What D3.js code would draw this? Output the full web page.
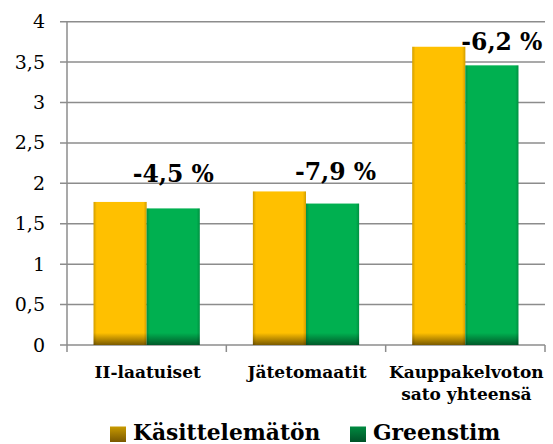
<!DOCTYPE html>
<html><head><meta charset="utf-8">
<script src="https://cdn.jsdelivr.net/npm/d3@7"></script>
<style>
html,body{margin:0;padding:0;background:#fff;}
svg{display:block;}
</style></head>
<body>
<svg id="chart" width="553" height="444"></svg>
<script>
const categories = ["II-laatuiset", "Jätetomaatit", "Kauppakelvoton\nsato yhteensä"];
const seriesNames = ["Käsittelemätön", "Greenstim"];
const untreated = [1.77, 1.90, 3.69];
const greenstim = [1.69, 1.75, 3.46];
const changeLabels = ["-4,5 %", "-7,9 %", "-6,2 %"];
const changeLabelAt = [2.02, 2.04, 3.65];
const yTicks = [0, 0.5, 1, 1.5, 2, 2.5, 3, 3.5, 4];

(function() {
const colors = ["#FFC000", "#00B050"];
const darks = ["#7A5A00", "#005A2A"];
const FONT = "'DejaVu Serif', serif";

const svg = d3.select("#chart");
const mLeft = 67, mRight = 545, mTop = 21.7, mBottom = 345;

const y = d3.scaleLinear().domain([0, 4]).range([mBottom, mTop]);
const x0 = d3.scaleBand().domain(categories).range([mLeft, mRight]).paddingInner(0).paddingOuter(0);
const x1 = d3.scaleBand().domain(seriesNames).range([0, x0.bandwidth()]).paddingInner(0).paddingOuter(0.5);

const defs = svg.append("defs");
seriesNames.forEach((s, i) => {
  const g = defs.append("linearGradient").attr("id", "bg" + i)
    .attr("gradientUnits", "userSpaceOnUse")
    .attr("x1", 0).attr("x2", 0).attr("y1", y(0) - 22).attr("y2", y(0));
  g.append("stop").attr("offset", 0).attr("stop-color", colors[i]);
  g.append("stop").attr("offset", 0.45).attr("stop-color", colors[i]);
  g.append("stop").attr("offset", 1).attr("stop-color", darks[i]);
  const lg = defs.append("linearGradient").attr("id", "lg" + i)
    .attr("x1", 0).attr("x2", 0).attr("y1", 0).attr("y2", 1);
  lg.append("stop").attr("offset", 0).attr("stop-color", i ? "#008A40" : "#C89A00");
  lg.append("stop").attr("offset", 1).attr("stop-color", i ? "#005228" : "#7A5800");
});
const eg = defs.append("linearGradient").attr("id", "edge").attr("x1", 0).attr("x2", 1).attr("y1", 0).attr("y2", 0);
eg.append("stop").attr("offset", 0).attr("stop-color", "#000").attr("stop-opacity", 0.18);
eg.append("stop").attr("offset", 0.06).attr("stop-color", "#000").attr("stop-opacity", 0);
eg.append("stop").attr("offset", 0.94).attr("stop-color", "#000").attr("stop-opacity", 0);
eg.append("stop").attr("offset", 1).attr("stop-color", "#000").attr("stop-opacity", 0.18);

// gridlines
svg.append("g").selectAll("line").data(yTicks).join("line")
  .attr("x1", mLeft - 7).attr("x2", mRight)
  .attr("y1", d => y(d)).attr("y2", d => y(d))
  .attr("stroke", "#8C8C8C").attr("stroke-width", 1.5);

// y axis line
svg.append("line").attr("x1", mLeft).attr("x2", mLeft).attr("y1", y(4)).attr("y2", y(0))
  .attr("stroke", "#8C8C8C").attr("stroke-width", 1.5);

// y labels
const fmt = d => String(d).replace(".", ",");
svg.append("g").selectAll("text").data(yTicks).join("text")
  .attr("x", 45).attr("y", d => y(d) + 6.5)
  .attr("text-anchor", "end")
  .attr("font-family", FONT).attr("font-size", 19).attr("fill", "#000")
  .text(fmt);

// x ticks
const bounds = categories.map(c => x0(c)).concat([mRight]);
svg.append("g").selectAll("line").data(bounds).join("line")
  .attr("x1", d => d).attr("x2", d => d).attr("y1", y(0)).attr("y2", y(0) + 7)
  .attr("stroke", "#8C8C8C").attr("stroke-width", 1.5);

// bars
const series = [untreated, greenstim];
seriesNames.forEach((s, i) => {
  const g = svg.append("g");
  g.selectAll("rect.bar").data(series[i]).join("rect").attr("class", "bar")
    .attr("x", (d, j) => x0(categories[j]) + x1(s))
    .attr("y", d => y(d))
    .attr("width", x1.bandwidth())
    .attr("height", d => y(0) - y(d))
    .attr("fill", "url(#bg" + i + ")");
  g.selectAll("rect.edge").data(series[i]).join("rect").attr("class", "edge")
    .attr("x", (d, j) => x0(categories[j]) + x1(s))
    .attr("y", d => y(d))
    .attr("width", x1.bandwidth())
    .attr("height", d => y(0) - y(d))
    .attr("fill", "url(#edge)");
});

// change labels
const dx = [0, 3, 10];
svg.append("g").selectAll("text").data(changeLabels).join("text")
  .attr("x", (d, j) => x0(categories[j]) + x1(seriesNames[1]) + x1.bandwidth() / 2 + dx[j])
  .attr("y", (d, j) => y(changeLabelAt[j]))
  .attr("text-anchor", "middle")
  .attr("font-family", FONT).attr("font-weight", "bold").attr("font-size", 23.5).attr("fill", "#000")
  .text(d => d);

// category labels
const cl = svg.append("g").selectAll("text").data(categories).join("text")
  .attr("x", c => x0(c) + x0.bandwidth() / 2 + 1)
  .attr("y", 378)
  .attr("text-anchor", "middle")
  .attr("font-family", FONT).attr("font-weight", "bold").attr("font-size", 17).attr("fill", "#000");
cl.each(function(c) {
  const lines = c.split("\n");
  d3.select(this).selectAll("tspan").data(lines).join("tspan")
    .attr("x", x0(c) + x0.bandwidth() / 2 + 1)
    .attr("dy", (d, k) => k ? 22 : 0)
    .text(d => d);
});

// legend
const legX = [110, 350];
seriesNames.forEach((s, i) => {
  svg.append("rect").attr("x", legX[i]).attr("y", 426.5).attr("width", 16).attr("height", 15.5)
    .attr("fill", "url(#lg" + i + ")");
  svg.append("text").attr("x", legX[i] + 23).attr("y", 440)
    .attr("font-family", FONT).attr("font-weight", "bold").attr("font-size", 21.8).attr("fill", "#000")
    .text(s);
});
})();
</script>
</body></html>
